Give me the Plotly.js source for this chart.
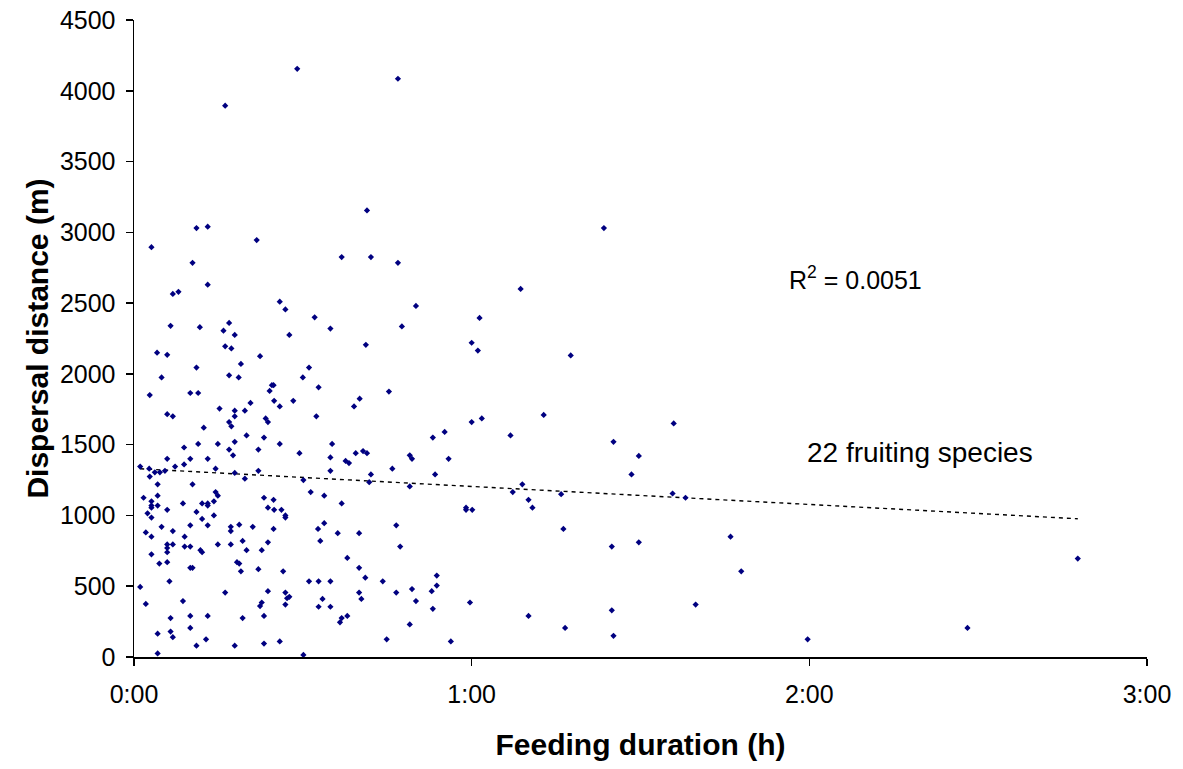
<!DOCTYPE html>
<html>
<head>
<meta charset="utf-8">
<script src="https://cdn.plot.ly/plotly-3.0.1.min.js"></script>
<style>html,body{margin:0;padding:0;background:#fff;}#chart{width:1183px;height:769px;}</style>
</head>
<body>
<div id="chart"></div>
<script>
// Feeding duration in minutes
var feedingMinutes = [
29.0,16.2,11.1,13.1,46.9,41.4,3.1,21.8,36.9,10.4,
13.1,6.9,7.9,25.9,26.9,16.9,6.5,11.7,32.1,34.9,
15.9,17.9,27.6,16.2,17.3,4.1,5.9,22.4,19.0,11.1,
31.1,4.9,16.9,18.6,30.0,32.8,2.8,10.0,11.4,24.5,
24.8,24.1,24.9,28.3,20.7,25.9,15.2,17.9,19.7,5.9,
6.9,32.4,16.9,17.3,17.9,23.4,23.8,12.4,20.0,23.1,
17.9,1.1,2.7,2.8,3.7,4.6,5.5,5.9,7.3,8.9,
8.9,10.0,11.4,13.1,14.5,14.9,16.9,17.6,17.9,19.7,
22.1,22.1,25.9,29.4,30.1,35.2,34.9,34.9,37.6,38.2,
4.2,1.7,4.2,3.1,3.1,3.1,4.2,2.4,3.1,5.9,
10.4,8.7,12.1,13.1,13.1,14.2,14.5,14.9,11.1,14.2,
12.1,13.1,4.9,10.0,2.1,6.9,3.1,9.0,5.9,6.9,
9.0,10.0,5.9,5.9,3.1,11.8,12.1,14.9,5.9,4.5,
10.0,10.4,6.3,1.1,2.1,8.7,6.5,10.0,13.1,10.0,
6.5,6.9,4.2,12.8,11.1,4.2,16.2,17.2,17.2,18.7,
21.1,19.3,17.2,20.0,23.1,23.8,24.8,24.9,26.2,26.9,
26.9,24.8,23.8,22.7,18.3,18.7,19.0,22.1,26.5,23.8,
22.7,22.4,26.9,27.6,27.2,26.9,23.1,19.3,17.9,23.1,
25.9,30.1,31.4,33.8,36.9,32.7,33.8,33.1,36.2,37.9,
31.1,32.8,34.9,32.8,33.5,34.9,36.6,36.9,37.9,39.4,
40.7,41.4,42.1,41.8,45.9,49.0,49.4,49.0,53.5,55.9,
40.0,46.6,47.3,40.0,41.1,44.2,40.0,40.4,46.6,49.4,
50.1,53.8,53.8,52.9,53.1,49.0,44.9,56.3,59.0,59.0,
60.1,59.7,67.3,69.0,70.1,70.8,75.9,76.3,70.1,76.6,
42.1,46.9,68.7,50.1,61.4,47.6,41.2,60.0,61.1,77.6,
45.3,40.1,39.1,72.8,60.0,61.8,55.2,53.1,66.9,83.5,
95.9,85.2,89.7,88.4,95.7,98.0,84.9,89.7,106.0,107.9,
99.8,84.9,85.2,119.7,167.7,148.1
];
// Dispersal distance in metres
var distanceM = [
4155,3895,3030,3040,4085,3155,2895,2945,2825,2785,
2630,2565,2580,2510,2455,2360,2340,2330,2400,2320,
2305,2275,2275,2195,2180,2150,2135,2125,2070,2045,
2045,1975,1990,1975,1975,1905,1850,1865,1865,1920,
1920,1880,1810,1810,1795,1770,1755,1740,1740,1715,
1700,1700,1660,1630,1700,1685,1660,1620,1565,1550,
1520,1345,1330,1275,1305,1305,1315,1400,1345,1480,
1360,1400,1505,1400,1330,1505,1465,1425,1300,1260,
1465,1315,1505,1440,1250,1505,1410,1315,1385,1370,
1220,1125,1140,1100,1070,1055,1070,1015,985,1040,
1220,1085,1085,1070,1085,1100,1165,1140,1025,1000,
975,930,920,930,880,890,850,850,795,795,
780,780,770,740,725,755,740,795,670,660,
630,630,535,495,375,395,275,290,290,205,
180,140,165,125,80,25,455,920,890,935,
920,820,795,755,1125,1055,1110,1040,1040,1000,
985,905,810,755,670,660,605,620,605,465,
385,360,455,425,415,370,290,275,80,95,
110,15,1165,1140,1085,905,945,820,875,700,
535,535,535,355,410,355,245,275,290,1440,
1455,1440,1290,1235,1330,1425,1400,1205,1290,1400,
875,930,780,630,560,535,455,410,455,480,
395,575,505,465,340,230,125,110,1055,1040,
1040,385,1165,1220,1110,1055,1150,905,290,205,
2825,2785,2600,2480,2395,2335,2205,2220,2165,2130,
1875,1825,1770,1710,1660,1685,1590,1550,1565,3030,
1650,1520,1420,1290,1155,1125,780,810,850,605,
370,330,150,125,695,205
];
var tickMinutes = [0, 60, 120, 180];
var tickLabels = ['0:00', '1:00', '2:00', '3:00'];
var yTicks = [0,500,1000,1500,2000,2500,3000,3500,4000,4500];
// Linear trendline, distance = a + b * minutes
var trendIntercept = 1332;
var trendSlope = -2.12;
var r2Text = 'R<sup>2</sup> = 0.0051';
var speciesText = '22 fruiting species';

var xMin = Math.min.apply(null, feedingMinutes);
var xMax = Math.max.apply(null, feedingMinutes);
var trendX = [xMin, xMax];
var trendY = trendX.map(function(x){ return trendIntercept + trendSlope * x; });

var font = 'Liberation Sans, Arial, Helvetica, sans-serif';

var data = [
  {
    x: trendX, y: trendY, type: 'scatter', mode: 'lines',
    line: {color: '#000000', width: 1.4, dash: '4px,4px'},
    hoverinfo: 'skip', showlegend: false
  },
  {
    x: feedingMinutes, y: distanceM, type: 'scatter', mode: 'markers',
    marker: {symbol: 'diamond', size: 4.8, color: '#000080', line: {width: 0}},
    showlegend: false
  }
];

var layout = {
  width: 1183, height: 769,
  margin: {l: 134, r: 36, t: 20, b: 112},
  paper_bgcolor: '#ffffff', plot_bgcolor: '#ffffff',
  font: {family: font, color: '#000000', size: 24},
  xaxis: {
    range: [0, 180], tickvals: tickMinutes, ticktext: tickLabels,
    showgrid: false, zeroline: false, showline: true, linecolor: '#000000', linewidth: 1.5,
    ticks: 'outside', ticklen: 7, tickwidth: 1.5, tickcolor: '#000000',
    ticklabelstandoff: 7,
    tickfont: {family: font, size: 25, color: '#000000'},
    title: {text: '<b>Feeding duration (h)</b>', font: {family: font, size: 30, color: '#000000'}, standoff: 27},
    automargin: false,
    fixedrange: true
  },
  yaxis: {
    range: [0, 4500], tickvals: yTicks,
    showgrid: false, zeroline: false, showline: true, linecolor: '#000000', linewidth: 1.5,
    ticks: 'outside', ticklen: 7, tickwidth: 1.5, tickcolor: '#000000',
    ticklabelstandoff: 5,
    tickfont: {family: font, size: 25, color: '#000000'},
    title: {text: '<b>Dispersal distance (m)</b>', font: {family: font, size: 30, color: '#000000'}, standoff: 2},
    automargin: false,
    fixedrange: true
  },
  annotations: [
    {x: 116.1, y: 2680, xref: 'x', yref: 'y', text: r2Text, showarrow: false, xanchor: 'left', yanchor: 'middle',
     font: {family: font, size: 25, color: '#000000'}},
    {x: 119.3, y: 1444, xref: 'x', yref: 'y', text: speciesText, showarrow: false, xanchor: 'left', yanchor: 'middle',
     font: {family: font, size: 28, color: '#000000'}}
  ]
};

Plotly.newPlot('chart', data, layout, {displayModeBar: false, staticPlot: true});
</script>
</body>
</html>
